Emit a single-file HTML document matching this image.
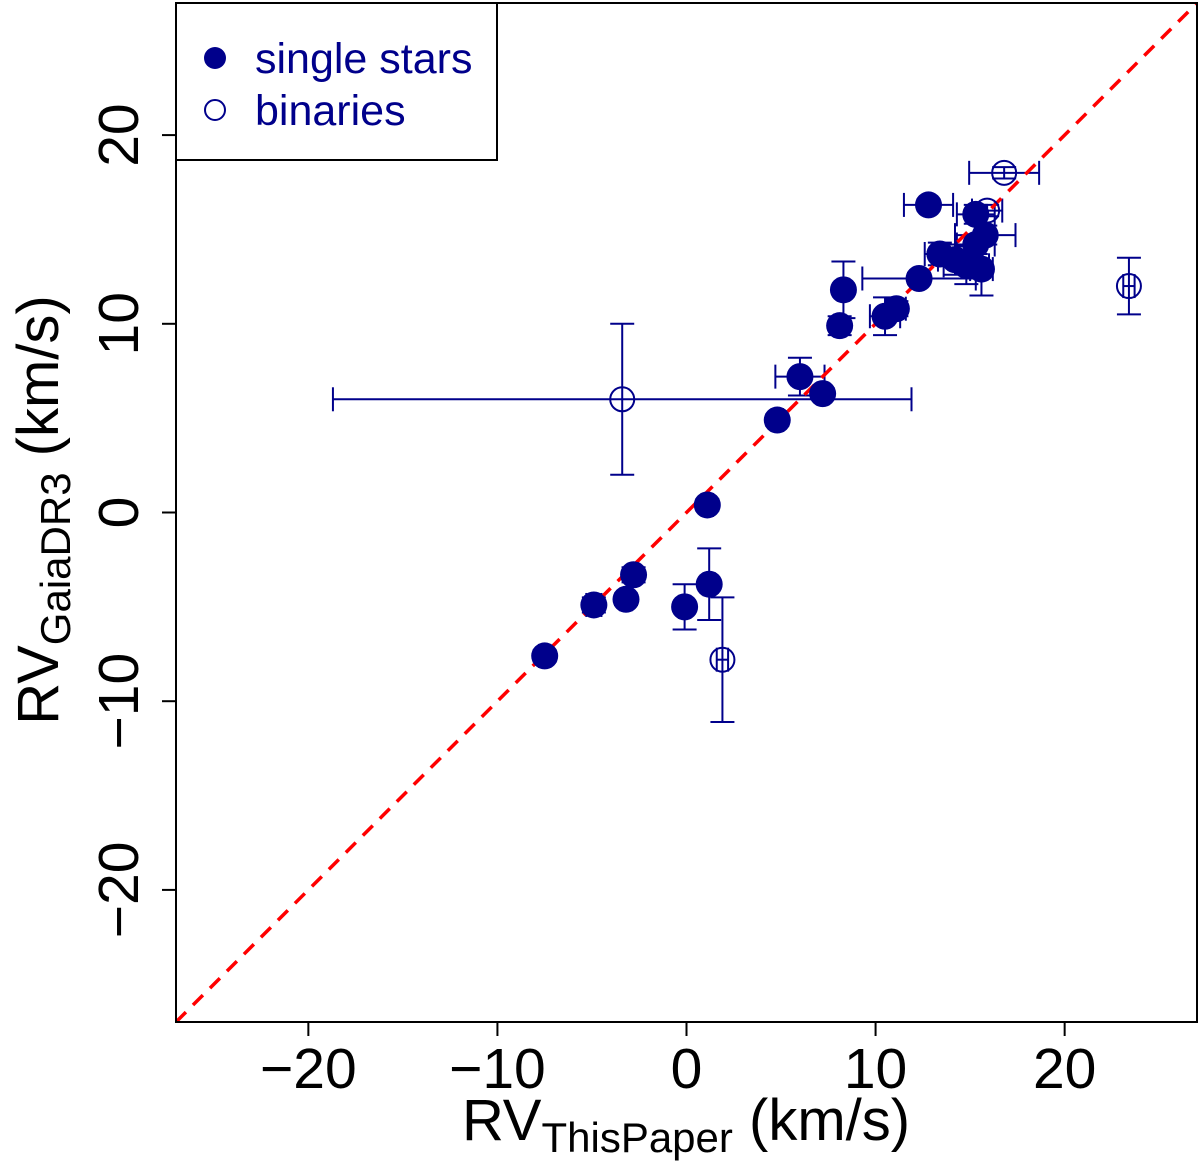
<!DOCTYPE html>
<html><head><meta charset="utf-8"><style>
html,body{margin:0;padding:0;background:#fff;width:1200px;height:1165px;overflow:hidden}
svg text{font-family:"Liberation Sans",sans-serif}
</style></head><body>
<svg id="chart" width="1200" height="1165">
<defs><clipPath id="clip"><rect x="176" y="3" width="1021" height="1019"/></clipPath></defs>
<g id="errs" clip-path="url(#clip)"></g>
<line id="oneone" clip-path="url(#clip)" stroke="#ff0000" stroke-width="3.5" stroke-dasharray="14,10"/>
<g id="pts" clip-path="url(#clip)"></g>
<rect x="176" y="3" width="1021" height="1019" fill="none" stroke="#000" stroke-width="2"/>
<g id="axes"></g>
<text x="686" y="1140" font-size="58" text-anchor="middle">RV<tspan font-size="42" dy="12">ThisPaper</tspan><tspan dy="-12"> (km/s)</tspan></text>
<text transform="translate(58,510) rotate(-90)" font-size="58" text-anchor="middle">RV<tspan font-size="42" dy="12">GaiaDR3</tspan><tspan dy="-12"> (km/s)</tspan></text>
<g>
<rect x="176" y="3" width="321" height="157" fill="#fff" stroke="#000" stroke-width="2"/>
<g><circle cx="215" cy="58" r="11" fill="#00008b"/><text x="255" y="73" font-size="43" fill="#00008b">single stars</text></g>
<g><circle cx="215" cy="110" r="10" fill="none" stroke="#00008b" stroke-width="2"/><text x="255" y="125" font-size="43" fill="#00008b">binaries</text></g>
</g>
</svg>
<script>
const singleX=[-7.5,-4.9,-3.2,-2.8,-0.1,1.2,1.1,4.8,7.2,6.0,8.1,8.3,10.5,11.1,12.3,12.8,15.3,15.8,13.4,14.2,14.8,15.6,15.3];
const singleY=[-7.6,-4.9,-4.6,-3.3,-5.0,-3.8,0.4,4.9,6.3,7.2,9.9,11.8,10.4,10.8,12.4,16.3,15.8,14.7,13.7,13.4,13.1,12.9,14.2];
const singleXErr=[0.3,0.4,0.3,0.3,0.3,0.3,0.3,0.3,0.3,1.3,0.3,0.3,0.8,0.5,3.0,1.3,1.0,1.6,0.8,0.9,1.2,0.6,1.0];
const singleYErr=[0.3,0.4,0.3,0.4,1.2,1.9,0.3,0.3,0.3,1.0,0.5,1.5,1.0,0.4,0.3,0.3,0.5,0.5,0.6,0.8,1.0,1.4,0.5];
const binX=[-3.4,1.9,23.4,16.8,15.9];
const binY=[6.0,-7.8,12.0,18.0,16.0];
const binXErr=[15.3,0.3,0.3,1.85,0.8];
const binYErr=[4.0,3.3,1.5,0.3,0.3];
const xTicks=[-20,-10,0,10,20];
const yTicks=[-20,-10,0,10,20];
const X0=176,X1=1197,Y0=1022,Y1=3,MIN=-27,MAX=27;
const sx=v=>X0+(v-MIN)/(MAX-MIN)*(X1-X0);
const sy=v=>Y0-(v-MIN)/(MAX-MIN)*(Y0-Y1);
const NS='http://www.w3.org/2000/svg';
function mk(tag,attrs,parent){const e=document.createElementNS(NS,tag);for(const k in attrs)e.setAttribute(k,attrs[k]);parent.appendChild(e);return e;}
const C='#00008b';
const errs=document.getElementById('errs'),pts=document.getElementById('pts'),axes=document.getElementById('axes');
const ll=document.getElementById('oneone');
ll.setAttribute('x1',sx(MIN));ll.setAttribute('y1',sy(MIN));ll.setAttribute('x2',sx(MAX));ll.setAttribute('y2',sy(MAX));
function errBar(x,y,ex,ey){
  const cx=sx(x),cy=sy(y),cap=12;
  const g=mk('g',{stroke:C,'stroke-width':2,fill:'none'},errs);
  
  
  mk('line',{x1:sx(x-ex),x2:sx(x+ex),y1:cy,y2:cy},g);
  mk('line',{x1:sx(x-ex),x2:sx(x-ex),y1:cy-cap,y2:cy+cap},g);
  mk('line',{x1:sx(x+ex),x2:sx(x+ex),y1:cy-cap,y2:cy+cap},g);
  mk('line',{x1:cx,x2:cx,y1:sy(y-ey),y2:sy(y+ey)},g);
  mk('line',{x1:cx-cap,x2:cx+cap,y1:sy(y-ey),y2:sy(y-ey)},g);
  mk('line',{x1:cx-cap,x2:cx+cap,y1:sy(y+ey),y2:sy(y+ey)},g);
}
singleX.forEach((x,i)=>errBar(x,singleY[i],singleXErr[i],singleYErr[i]));
binX.forEach((x,i)=>errBar(x,binY[i],binXErr[i],binYErr[i]));
singleX.forEach((x,i)=>{const c=mk('circle',{cx:sx(x),cy:sy(singleY[i]),r:13.5,fill:C},pts);
  
  });
binX.forEach((x,i)=>{const c=mk('circle',{cx:sx(x),cy:sy(binY[i]),r:12,fill:'none',stroke:C,'stroke-width':2},pts);
  
  });
xTicks.forEach(t=>{
  mk('line',{x1:sx(t),x2:sx(t),y1:Y0,y2:Y0+14,stroke:'#000','stroke-width':2},axes);
  const tx=mk('text',{x:sx(t),y:1088,'font-size':57,'text-anchor':'middle'},axes);
  tx.textContent=t<0?'\u2212'+(-t):String(t);
  
  
});
yTicks.forEach(t=>{
  mk('line',{x1:X0-14,x2:X0,y1:sy(t),y2:sy(t),stroke:'#000','stroke-width':2},axes);
  const tx=mk('text',{transform:`translate(138,${sy(t)}) rotate(-90)`,'font-size':57,'text-anchor':'middle'},axes);
  tx.textContent=t<0?'\u2212'+(-t):String(t);
  
  
});
</script>
</body></html>
